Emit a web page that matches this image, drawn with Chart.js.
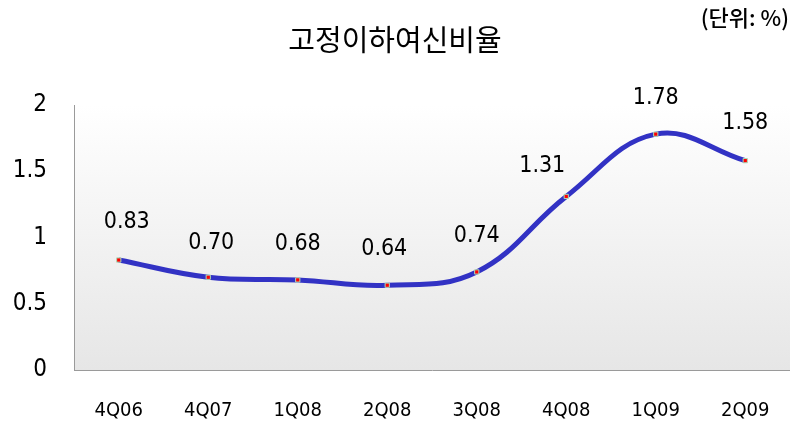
<!DOCTYPE html>
<html>
<head>
<meta charset="utf-8">
<script src="https://cdn.jsdelivr.net/npm/chart.js@4"></script>
<style>
  html, body { margin: 0; padding: 0; background: #fff; }
  #wrap { width: 790px; height: 427px; position: relative; }
</style>
</head>
<body>
<div id="wrap"><canvas id="chart" width="790" height="427"></canvas></div>
<script>
// data
const quarters = ["4Q06", "4Q07", "1Q08", "2Q08", "3Q08", "4Q08", "1Q09", "2Q09"];
const npl = [0.83, 0.70, 0.68, 0.64, 0.74, 1.31, 1.78, 1.58];
const yTicks = [0, 0.5, 1, 1.5, 2];

const titleText = "고정이하여신비율";
const unitText = "(단위: %)";

const condensed = "'DejaVu Sans Condensed', 'DejaVu Sans'";

// background gradient + title + unit
const decor = {
    id: "decor",
    beforeDraw(chart) {
        const { ctx, chartArea: a } = chart;
        const g = ctx.createLinearGradient(0, a.top, 0, a.bottom);
        g.addColorStop(0, "#ffffff");
        g.addColorStop(1, "#e6e6e6");
        ctx.save();
        ctx.fillStyle = g;
        ctx.fillRect(a.left, a.top, a.right - a.left, a.bottom - a.top);
        ctx.fillStyle = "#000";
        ctx.textAlign = "center";
        ctx.textBaseline = "middle";
        ctx.font = "29px 'Noto Sans CJK KR'";
        ctx.fillText(titleText, 395, 40);
        ctx.textAlign = "right";
        ctx.font = "500 22px 'Noto Sans CJK KR'";
        ctx.fillText(unitText, 789, 18);
        ctx.restore();
    }
};

// value labels over the points
const valueLabels = {
    id: "valueLabels",
    afterDatasetsDraw(chart, args, opts) {
        const { ctx } = chart;
        const meta = chart.getDatasetMeta(0);
        ctx.save();
        ctx.fillStyle = "#000";
        ctx.font = "23px " + condensed;
        ctx.textAlign = "center";
        ctx.textBaseline = "middle";
        meta.data.forEach((pt, i) => {
            const dx = (opts.dx && opts.dx[i]) || 0;
            const dy = (opts.dy && opts.dy[i]) || -36;
            ctx.fillText(npl[i].toFixed(2), pt.x + dx, pt.y + dy);
        });
        ctx.restore();
    }
};

new Chart(document.getElementById("chart"), {
    type: "line",
    data: {
        labels: quarters,
        datasets: [{
            data: npl,
            borderColor: "#3232c4",
            borderWidth: 5,
            tension: 0.4,
            pointStyle: "rect",
            pointRadius: 3,
            pointBackgroundColor: "#ff0000",
            pointBorderColor: "#a8dcb8",
            pointBorderWidth: 1,
            fill: false
        }]
    },
    options: {
        responsive: false,
        animation: false,
        layout: { autoPadding: false, padding: { top: 105, right: 0, left: 0, bottom: 0 } },
        plugins: {
            legend: { display: false },
            tooltip: { enabled: false },
            valueLabels: {
                dx: [8, 3, 0, -3, 0, -24, 0, 0],
                dy: [-38, -34, -36, -36, -36, -30, -36, -38]
            }
        },
        scales: {
            x: {
                offset: true,
                grid: { display: false, tickLength: 29 },
                border: { display: true, color: "#9a9a9a", width: 1 },
                ticks: {
                    color: "#000",
                    font: { family: condensed, size: 20 },
                    padding: 0,
                    maxRotation: 0
                },
                afterFit(s) { s.height = 57; }
            },
            y: {
                min: 0,
                max: 2,
                grid: { display: false },
                border: { display: true, color: "#9a9a9a", width: 1 },
                afterBuildTicks(s) { s.ticks = yTicks.map(v => ({ value: v })); },
                ticks: {
                    color: "#000",
                    font: { family: condensed, size: 24 },
                    padding: 19,
                    callback: v => String(v)
                },
                afterFit(s) { s.width = 74; }
            }
        }
    },
    plugins: [decor, valueLabels]
});
</script>
</body>
</html>
